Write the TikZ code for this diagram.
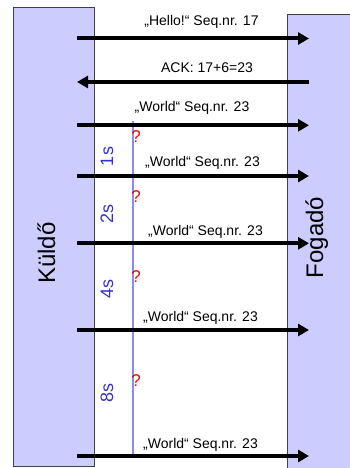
\documentclass[tikz,border=0pt]{standalone}
\usepackage{fontspec}
\setmainfont{Liberation Sans}
\usetikzlibrary{arrows.meta}
\definecolor{boxfill}{RGB}{204,204,255}
\definecolor{tline}{RGB}{140,140,232}
\definecolor{tlabel}{RGB}{51,51,204}
\begin{document}
\begin{tikzpicture}[x=1pt,y=-1pt,
  msg/.style={line width=4pt, -{Triangle[length=11pt,width=12pt]}},
  lbl/.style={font=\fontsize{14}{16}\selectfont, anchor=base, inner sep=0pt},
  party/.style={font=\fontsize{24}{28}\selectfont, rotate=90, anchor=base, inner sep=0pt},
  tlab/.style={font=\fontsize{18}{20}\selectfont, text=tlabel, rotate=90, anchor=base, inner sep=0pt},
  qm/.style={font=\fontsize{17}{20}\selectfont, text=red, inner sep=0pt},
  ent/.style={fill=boxfill, draw=black!75, line width=0.8pt, inner sep=0pt, anchor=north west}]
\useasboundingbox (0,0) rectangle (350,468);
% parties
\node[ent, minimum width=81pt, minimum height=459pt] (sender) at (13,7) {};
\node[ent, minimum width=70pt, minimum height=460pt] (receiver) at (287,14) {};
\node[party] (kuldo) at (55,253) {Küldő};
\node[party] (fogado) at (323,237.5) {Fogadó};
% timer line
\coordinate (t1) at (133,121);
\coordinate (t2) at (133,456);
\draw[tline, line width=1.2pt] (t1) -- (t2);
% message endpoints
\coordinate (s1) at (77,38.5);  \coordinate (r1) at (309,38.5);
\coordinate (s2) at (77,82);    \coordinate (r2) at (309,82);
\coordinate (s3) at (77,125.3); \coordinate (r3) at (309,125.3);
\coordinate (s4) at (77,176);   \coordinate (r4) at (309,176);
\coordinate (s5) at (77,243.3); \coordinate (r5) at (309,243.3);
\coordinate (s6) at (77,330);   \coordinate (r6) at (309,330);
\coordinate (s7) at (77,456);   \coordinate (r7) at (309,456);
\draw[msg] (s1) -- (r1);
\draw[msg] (r2) -- (s2);
\draw[msg] (s3) -- (r3);
\draw[msg] (s4) -- (r4);
\draw[msg] (s5) -- (r5);
\draw[msg] (s6) -- (r6);
\draw[msg] (s7) -- (r7);
% message labels
\node[lbl] (m1) at (201.5,25.5) {„Hello!“ Seq.nr. 17};
\node[lbl] (m2) at (207,72.7) {ACK: 17+6=23};
\node[lbl] (m3) at (192,111.7) {„World“ Seq.nr. 23};
\node[lbl] (m4) at (202.5,166) {„World“ Seq.nr. 23};
\node[lbl] (m5) at (205.5,235.3) {„World“ Seq.nr. 23};
\node[lbl] (m6) at (200.5,321.7) {„World“ Seq.nr. 23};
\node[lbl] (m7) at (200.5,448.3) {„World“ Seq.nr. 23};
% timeouts
\node[tlab] (d1) at (113,156.5) {1s};
\node[tlab] (d2) at (113,214) {2s};
\node[tlab] (d4) at (113,288.5) {4s};
\node[tlab] (d8) at (113,393) {8s};
\node[qm] (q1) at (136,136.5) {?};
\node[qm] (q2) at (136,196.5) {?};
\node[qm] (q3) at (136,276.5) {?};
\node[qm] (q4) at (136,380.5) {?};
\end{tikzpicture}
\end{document}
